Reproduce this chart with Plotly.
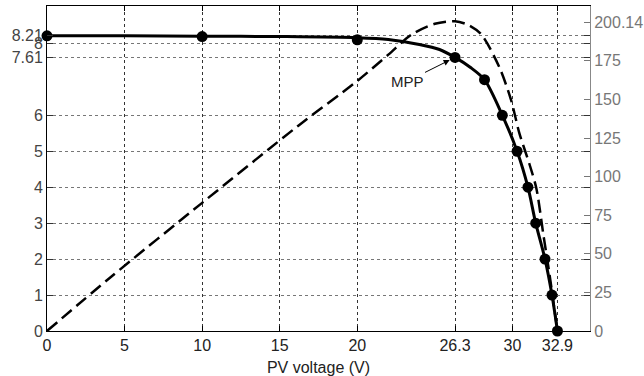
import plotly.graph_objects as go

# I-V curve (line)
v_line = [0, 5, 10, 15, 20, 22, 24, 25.3, 26.3, 27.3, 28.2, 29.35, 30.3, 31.0, 31.5, 32.1, 32.55, 32.9]
i_line = [8.21, 8.21, 8.2, 8.19, 8.16, 8.11, 7.97, 7.83, 7.61, 7.33, 6.99, 6.0, 5.0, 4.0, 3.0, 2.0, 1.0, 0.0]

# I-V markers
v_mark = [0, 10, 20, 26.3, 28.2, 29.35, 30.3, 31.0, 31.5, 32.1, 32.55, 32.9]
i_mark = [8.21, 8.19, 8.10, 7.61, 6.99, 6.0, 5.0, 4.0, 3.0, 2.0, 1.0, 0.0]

# P-V curve (dashed, right axis)
v_pow = [0, 4, 10, 16.2, 20, 22, 23.5, 25, 26.3, 27.2, 28, 29.15, 29.9, 30.45, 31.1, 31.55, 32.0, 32.4, 32.9]
p_pow = [0, 34, 83, 133, 162, 179, 192, 199, 200.6, 198, 192, 171, 150, 128, 108, 92, 62, 36, 0]

x_ticks = [0, 5, 10, 15, 20, 26.3, 30, 32.9]
x_ticktext = ["0", "5", "10", "15", "20", "26.3", "30", "32.9"]
y_ticks = [0, 1, 2, 3, 4, 5, 6, 7.61, 8, 8.21]
y_ticktext = ["0", "1", "2", "3", "4", "5", "6", "7.61", "8", "8.21"]
y2_ticks = [0, 25, 50, 75, 100, 125, 150, 175, 200.14]
y2_ticktext = ["0", "25", "50", "75", "100", "125", "150", "175", "200.14"]

FONT = "Liberation Sans, Arial, sans-serif"

fig = go.Figure()
fig.add_trace(go.Scatter(x=v_pow, y=p_pow, yaxis="y2", mode="lines",
                         line=dict(color="black", width=2.5, dash="13px,6px", shape="spline", smoothing=0.8),
                         showlegend=False, cliponaxis=False))
fig.add_trace(go.Scatter(x=v_line, y=i_line, mode="lines",
                         line=dict(color="black", width=3, shape="spline", smoothing=0.8),
                         showlegend=False, cliponaxis=False))
fig.add_trace(go.Scatter(x=v_mark, y=i_mark, mode="markers",
                         marker=dict(color="black", size=11),
                         showlegend=False, cliponaxis=False))

fig.add_annotation(x=26.3, y=7.61, xref="x", yref="y", text="MPP",
                   showarrow=True, ax=-48, ay=24, arrowhead=2, arrowsize=1.2,
                   arrowwidth=1, arrowcolor="black", standoff=6,
                   font=dict(family=FONT, size=15, color="#222"))

fig.update_layout(
    width=644, height=376,
    margin=dict(l=47, r=54, t=6, b=45),
    paper_bgcolor="white", plot_bgcolor="white",
    font=dict(family=FONT, size=16, color="#333"),
    xaxis=dict(range=[0, 35], tickvals=x_ticks, ticktext=x_ticktext,
               showline=True, linecolor="black", linewidth=1, mirror="ticks",
               ticks="inside", ticklen=5, tickcolor="black", automargin=False,
               showgrid=True, gridcolor="#333", griddash="dot", gridwidth=1,
               zeroline=False, tickfont=dict(size=16, color="#222"),
               title=dict(text="PV voltage (V)", font=dict(size=16, color="#222"), standoff=15)),
    yaxis=dict(range=[0, 9.04], tickvals=y_ticks, ticktext=y_ticktext,
               showline=True, linecolor="black", linewidth=1, mirror="ticks",
               ticks="inside", ticklen=6, tickcolor="#333", automargin=False,
               showgrid=True, gridcolor="#777", griddash="dot", gridwidth=1,
               zeroline=False, tickfont=dict(size=16, color="#444")),
    yaxis2=dict(range=[0, 210.5], tickvals=y2_ticks, ticktext=y2_ticktext,
                overlaying="y", side="right", automargin=False,
                showline=True, linecolor="#888", linewidth=1,
                ticks="inside", ticklen=6, tickcolor="#777",
                showgrid=False, zeroline=False, tickfont=dict(size=16, color="#777")),
)

fig.write_html("out.html")
